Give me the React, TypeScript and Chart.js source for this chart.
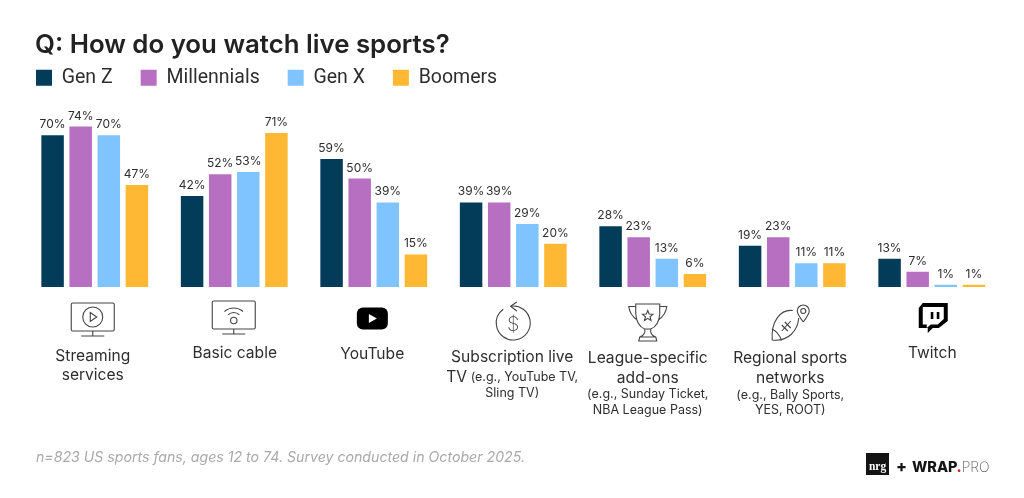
import { useEffect, useRef } from 'react'
import { Chart, registerables } from 'chart.js'

Chart.register(...registerables)

const FONT = 'Inter'
const INK = '#2e2e2e'

const categories = ['Streaming services', 'Basic cable', 'YouTube', 'Subscription live TV', 'League-specific add-ons', 'Regional sports networks', 'Twitch']
const genZ = [70, 42, 59, 39, 28, 19, 13]
const millennials = [74, 52, 50, 39, 23, 23, 7]
const genX = [70, 53, 39, 29, 13, 11, 1]
const boomers = [47, 71, 15, 20, 6, 11, 1]

const seriesNames = ['Gen Z', 'Millennials', 'Gen X', 'Boomers']
const seriesColors = ['#033c59', '#b76fc2', '#80c4ff', '#ffb833']

// each line: text, small text after it on the same line, or a whole small line
type LabelLine = { main?: string; small?: string }
const categoryLines: LabelLine[][] = [
  [{ main: 'Streaming' }, { main: 'services' }],
  [{ main: 'Basic cable' }],
  [{ main: 'YouTube' }],
  [{ main: 'Subscription live' }, { main: 'TV', small: ' (e.g., YouTube TV,' }, { small: 'Sling TV)' }],
  [{ main: 'League-specific' }, { main: 'add-ons' }, { small: '(e.g., Sunday Ticket,' }, { small: 'NBA League Pass)' }],
  [{ main: 'Regional sports' }, { main: 'networks' }, { small: '(e.g., Bally Sports,' }, { small: 'YES, ROOT)' }],
  [{ main: 'Twitch' }],
]
const labelLineY = [
  [356, 375],
  [353],
  [354],
  [357, 377, 393],
  [358, 378, 394, 410],
  [358, 378, 395, 410],
  [353],
]
const labelOffsetX = [-2, 0.5, -1.5, -1, -5, -2, 0.5]

const titleText = 'Q: How do you watch live sports?'
const footnote = 'n=823 US sports fans, ages 12 to 74. Survey conducted in October 2025.'

type Ctx = CanvasRenderingContext2D

function screen(ctx: Ctx, y: number) {
  ctx.beginPath()
  ctx.roundRect(-21.5, y, 43, 28, 1.5)
  ctx.moveTo(0, y + 28)
  ctx.lineTo(0, y + 33)
  ctx.moveTo(-11.5, y + 33)
  ctx.lineTo(11.5, y + 33)
  ctx.stroke()
}

function streamingIcon(ctx: Ctx) {
  screen(ctx, 303)
  ctx.beginPath()
  ctx.arc(0, 317, 10, 0, Math.PI * 2)
  ctx.moveTo(-2.5, 312.5)
  ctx.lineTo(4, 317)
  ctx.lineTo(-2.5, 321.5)
  ctx.closePath()
  ctx.stroke()
}

function cableIcon(ctx: Ctx) {
  screen(ctx, 301)
  ctx.beginPath()
  ctx.arc(0, 320.5, 3.2, 0, Math.PI * 2)
  ctx.stroke()
  ctx.beginPath()
  ctx.arc(0, 320.5, 8, Math.PI * 1.25, Math.PI * 1.75)
  ctx.stroke()
  ctx.beginPath()
  ctx.arc(0, 322, 14, Math.PI * 1.27, Math.PI * 1.73)
  ctx.stroke()
}

function youtubeIcon(ctx: Ctx) {
  ctx.fillStyle = '#000'
  ctx.beginPath()
  ctx.roundRect(-15.5, 307.5, 31, 22, 6)
  ctx.fill()
  ctx.fillStyle = '#fff'
  ctx.beginPath()
  ctx.moveTo(-3.5, 314)
  ctx.lineTo(4.5, 318.5)
  ctx.lineTo(-3.5, 323)
  ctx.closePath()
  ctx.fill()
}

function subscriptionIcon(ctx: Ctx) {
  ctx.beginPath()
  ctx.arc(0, 323, 17, Math.PI * 1.45, Math.PI * 1.3)
  ctx.stroke()
  ctx.beginPath()
  ctx.moveTo(3.5, 302)
  ctx.lineTo(-2.6, 306.3)
  ctx.lineTo(3.5, 311)
  ctx.stroke()
  ctx.fillStyle = '#444'
  ctx.font = `200 20px ${FONT}`
  ctx.textAlign = 'center'
  ctx.textBaseline = 'middle'
  ctx.fillText('$', 0, 325)
}

function trophyIcon(ctx: Ctx) {
  ctx.beginPath()
  ctx.moveTo(-12, 304)
  ctx.lineTo(12, 304)
  ctx.lineTo(12, 314)
  ctx.quadraticCurveTo(11, 326, 3, 329)
  ctx.lineTo(-3, 329)
  ctx.quadraticCurveTo(-11, 326, -12, 314)
  ctx.closePath()
  ctx.moveTo(-12, 306.5)
  ctx.lineTo(-19, 306.5)
  ctx.quadraticCurveTo(-18, 315, -10.5, 320)
  ctx.moveTo(12, 306.5)
  ctx.lineTo(19, 306.5)
  ctx.quadraticCurveTo(18, 315, 10.5, 320)
  ctx.moveTo(-3, 329)
  ctx.quadraticCurveTo(-2, 335, -8, 337)
  ctx.lineTo(-9, 341)
  ctx.lineTo(9, 341)
  ctx.lineTo(8, 337)
  ctx.quadraticCurveTo(2, 335, 3, 329)
  ctx.moveTo(-8, 337)
  ctx.lineTo(8, 337)
  ctx.stroke()
  ctx.beginPath()
  for (let i = 0; i < 10; i++) {
    const r = i % 2 === 0 ? 5.5 : 2.4
    const a = -Math.PI / 2 + (i * Math.PI) / 5
    ctx.lineTo(r * Math.cos(a), 316 + r * Math.sin(a))
  }
  ctx.closePath()
  ctx.stroke()
}

function footballIcon(ctx: Ctx) {
  ctx.beginPath()
  ctx.moveTo(6, 310.5)
  ctx.bezierCurveTo(-6, 309, -16, 321, -14.5, 340)
  ctx.bezierCurveTo(2, 342, 11, 330, 12, 318)
  ctx.stroke()
  ctx.beginPath()
  ctx.moveTo(-15, 329)
  ctx.quadraticCurveTo(-9, 331, -5, 340.5)
  ctx.moveTo(-5, 331)
  ctx.lineTo(4, 321)
  for (const [x, y] of [[-2, 328], [1, 325]]) {
    ctx.moveTo(x - 3, y - 3)
    ctx.lineTo(x + 3, y + 3)
  }
  ctx.stroke()
  ctx.beginPath()
  ctx.moveTo(16.5, 322)
  ctx.quadraticCurveTo(10.5, 314, 10.5, 311)
  ctx.arc(16.5, 311, 6, Math.PI, 0)
  ctx.quadraticCurveTo(22.5, 314, 16.5, 322)
  ctx.moveTo(19, 311)
  ctx.arc(16.5, 311, 2.5, 0, Math.PI * 2)
  ctx.stroke()
}

function twitchIcon(ctx: Ctx) {
  ctx.fillStyle = '#000'
  ctx.beginPath()
  ctx.moveTo(-10, 303)
  ctx.lineTo(15, 303)
  ctx.lineTo(15, 321)
  ctx.lineTo(6, 328)
  ctx.lineTo(0, 328)
  ctx.lineTo(-5, 333)
  ctx.lineTo(-5, 328)
  ctx.lineTo(-14, 328)
  ctx.lineTo(-14, 308)
  ctx.closePath()
  ctx.fill()
  ctx.fillStyle = '#fff'
  ctx.beginPath()
  ctx.moveTo(-10, 307)
  ctx.lineTo(11, 307)
  ctx.lineTo(11, 319)
  ctx.lineTo(5, 324.5)
  ctx.lineTo(-2, 324.5)
  ctx.lineTo(-6, 328)
  ctx.lineTo(-6, 324.5)
  ctx.lineTo(-10, 324.5)
  ctx.closePath()
  ctx.fill()
  ctx.fillStyle = '#000'
  ctx.fillRect(-2, 312, 2.6, 7)
  ctx.fillRect(4, 312, 2.6, 7)
}

const icons = [streamingIcon, cableIcon, youtubeIcon, subscriptionIcon, trophyIcon, footballIcon, twitchIcon]
const iconOffsetX = [-2, -0.5, -1.4, 0, -5, -5.5, 1]

const valueLabels = {
  id: 'valueLabels',
  afterDatasetsDraw(chart: Chart) {
    const { ctx } = chart
    ctx.save()
    ctx.font = `400 12px ${FONT}`
    ctx.fillStyle = INK
    ctx.textAlign = 'center'
    ctx.textBaseline = 'alphabetic'
    chart.data.datasets.forEach((ds, d) => {
      chart.getDatasetMeta(d).data.forEach((bar: any, i) => {
        ctx.fillText(`${ds.data[i]}%`, bar.x, bar.y - 7)
      })
    })
    ctx.restore()
  },
}

const pageText = {
  id: 'pageText',
  afterDraw(chart: Chart) {
    const { ctx } = chart
    const x = chart.scales.x

    ctx.save()
    ctx.textBaseline = 'alphabetic'
    ctx.textAlign = 'left'
    ctx.fillStyle = '#222'
    ctx.font = `600 25.8px ${FONT}`
    ctx.fillText(titleText, 35, 53)

    ctx.fillStyle = '#a9a9a9'
    ctx.font = `italic 400 14.15px ${FONT}`
    ctx.fillText(footnote, 36, 462)

    // category labels
    ctx.fillStyle = INK
    ctx.textBaseline = 'middle'
    categoryLines.forEach((lines, i) => {
      const cx = x.getPixelForValue(i) + labelOffsetX[i]
      lines.forEach((line, l) => {
        const y = labelLineY[i][l]
        ctx.font = `400 15.6px ${FONT}`
        const w1 = line.main ? ctx.measureText(line.main).width : 0
        ctx.font = `400 12.5px ${FONT}`
        const w2 = line.small ? ctx.measureText(line.small).width : 0
        const left = cx - (w1 + w2) / 2
        ctx.textAlign = 'left'
        if (line.main) {
          ctx.font = `400 15.6px ${FONT}`
          ctx.fillText(line.main, left, y)
        }
        if (line.small) {
          ctx.font = `400 12.5px ${FONT}`
          ctx.fillText(line.small, left + w1, y)
        }
      })
    })

    // icons under each group
    icons.forEach((draw, i) => {
      ctx.save()
      ctx.translate(x.getPixelForValue(i) + iconOffsetX[i], 0)
      ctx.strokeStyle = '#444'
      ctx.lineWidth = 1.1
      draw(ctx)
      ctx.restore()
    })

    // logos
    ctx.fillStyle = '#141414'
    ctx.fillRect(866, 453, 23, 22)
    ctx.fillStyle = '#fff'
    ctx.font = 'bold 11.5px "Liberation Serif"'
    ctx.textAlign = 'center'
    ctx.textBaseline = 'alphabetic'
    ctx.fillText('nrg', 877.5, 470)
    ctx.textAlign = 'left'
    ctx.fillStyle = '#141414'
    ctx.font = `800 16px ${FONT}`
    ctx.fillText('+', 896, 471.5)
    ctx.font = `800 14.5px ${FONT}`
    ctx.fillText('WRAP', 912, 471.5)
    const w = ctx.measureText('WRAP').width
    ctx.fillStyle = '#d6202a'
    ctx.fillText('.', 911 + w, 471.5)
    const dot = ctx.measureText('.').width
    ctx.fillStyle = '#555'
    ctx.font = `200 14px ${FONT}`
    ctx.fillText('PRO', 911 + w + dot, 471.5)
    ctx.restore()
  },
}

export default function App() {
  const chartRef = useRef<HTMLCanvasElement>(null)

  useEffect(() => {
    if (!chartRef.current) return
    const ctx = chartRef.current.getContext('2d')
    if (!ctx) return

    const values = [genZ, millennials, genX, boomers]
    const chart = new Chart(ctx, {
      type: 'bar',
      data: {
        labels: categories,
        datasets: values.map((data, i) => ({
          label: seriesNames[i],
          data,
          backgroundColor: seriesColors[i],
          categoryPercentage: 0.806,
          barPercentage: 0.8,
        })),
      },
      options: {
        responsive: false,
        animation: false,
        devicePixelRatio: 1,
        layout: { padding: { top: 40, left: 8, right: 22.5, bottom: 211 } },
        plugins: {
          tooltip: { enabled: false },
          legend: {
            position: 'top',
            align: 'start',
            labels: {
              boxWidth: 16,
              boxHeight: 16,
              padding: 28,
              color: INK,
              font: { family: 'Roboto', size: 19.5, weight: 400 },
            },
          },
        },
        scales: {
          x: { display: false, grid: { display: false } },
          y: {
            min: 0,
            max: 87.4,
            grid: { display: false },
            border: { display: false },
            ticks: { display: false },
            afterFit(scale: any) {
              scale.width = 17
            },
          },
        },
      },
      plugins: [valueLabels, pageText],
    })

    return () => chart.destroy()
  }, [])

  return (
    <div style={{ position: 'fixed', left: 0, top: 0 }}>
      <canvas ref={chartRef} width={1024} height={498} style={{ display: 'block' }} />
    </div>
  )
}
